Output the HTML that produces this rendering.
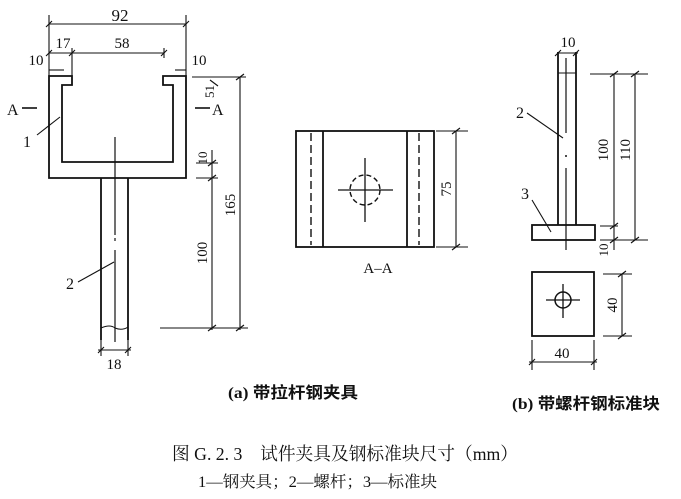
<!DOCTYPE html>
<html><head><meta charset="utf-8"><style>
html,body{margin:0;padding:0;background:#fff;}
svg{display:block}
text{font-family:"Liberation Serif","Noto Serif CJK SC",serif;fill:#111}
.c{font-family:"Liberation Serif","Noto Sans CJK SC",sans-serif;font-weight:bold}
</style></head><body>
<svg width="681" height="499" viewBox="0 0 681 499" xmlns="http://www.w3.org/2000/svg">
<g stroke="#111" stroke-width="1.8" fill="none">
<path d="M49,76 L72,76 L72,85 L62,85 L62,162 L173,162 L173,85 L163,85 L163,76 L186,76 L186,178 L49,178 Z"/>
<line x1="101" y1="178" x2="101" y2="340"/>
<line x1="128" y1="178" x2="128" y2="340"/>
<path d="M101,328 Q110,324 115,328 Q122,331 128,327" stroke-width="1"/>
<line x1="115" y1="137" x2="115" y2="235" stroke-width="1.2"/>
<line x1="115" y1="238" x2="115" y2="241" stroke-width="1.2"/>
<line x1="115" y1="250" x2="115" y2="342" stroke-width="1.2"/>
<g stroke-width="1.1">
<line x1="49" y1="15" x2="49" y2="76"/><line x1="186" y1="15" x2="186" y2="76"/>
<line x1="49" y1="24" x2="186" y2="24"/>
<line x1="72" y1="48" x2="72" y2="76"/><line x1="164" y1="48" x2="164" y2="58"/>
<line x1="49" y1="53" x2="164" y2="53"/>
<line x1="49" y1="70" x2="64" y2="70"/><line x1="175" y1="70" x2="186" y2="70"/>
<line x1="192" y1="77" x2="246" y2="77"/>
<line x1="240" y1="77" x2="240" y2="330"/>
<line x1="212" y1="150" x2="212" y2="330"/>
<line x1="196" y1="163" x2="218" y2="163"/>
<line x1="196" y1="178" x2="218" y2="178"/>
<line x1="160" y1="328" x2="248" y2="328"/>
<line x1="210" y1="80" x2="218" y2="86"/>
<line x1="101" y1="340" x2="101" y2="356"/><line x1="128" y1="340" x2="128" y2="356"/>
<line x1="98" y1="350" x2="131" y2="350"/>
<path d="M46,27 L52,21 M183,27 L189,21 M46,56 L52,50 M69,56 L75,50 M161,56 L167,50 M236,80 L244,74 M236,331 L244,325 M208,331 L216,325 M208,166 L216,160 M208,181 L216,175 M98,353 L104,347 M125,353 L131,347"/>
<line x1="37" y1="135" x2="60" y2="117"/>
<line x1="78" y1="282" x2="114" y2="262"/>
<line x1="22" y1="108" x2="37" y2="108" stroke-width="1.6"/>
<line x1="195" y1="108" x2="210" y2="108" stroke-width="1.6"/>
</g>
<rect x="296" y="131" width="138" height="116"/>
<line x1="323" y1="131" x2="323" y2="247"/>
<line x1="407" y1="131" x2="407" y2="247"/>
<line x1="311" y1="133" x2="311" y2="245" stroke-dasharray="8,4" stroke-width="1.4"/>
<line x1="419" y1="133" x2="419" y2="245" stroke-dasharray="8,4" stroke-width="1.4"/>
<circle cx="365" cy="190" r="15" stroke-dasharray="5,3" stroke-width="1.4"/>
<line x1="338" y1="190" x2="393" y2="190" stroke-width="1.3"/>
<line x1="365" y1="158" x2="365" y2="222" stroke-width="1.3"/>
<g stroke-width="1.1">
<line x1="436" y1="131" x2="468" y2="131"/><line x1="436" y1="247" x2="468" y2="247"/>
<line x1="456" y1="131" x2="456" y2="247"/>
<path d="M452,134 L460,128 M452,250 L460,244"/>
</g>
<line x1="558" y1="52" x2="558" y2="225"/>
<line x1="576" y1="52" x2="576" y2="225"/>
<line x1="558" y1="73" x2="576" y2="73" stroke-width="1"/>
<line x1="566" y1="58" x2="566" y2="133" stroke-width="1.2"/>
<line x1="566" y1="155" x2="566" y2="157" stroke-width="1.5"/>
<line x1="566" y1="168" x2="566" y2="250" stroke-width="1.2"/>
<rect x="532" y="225" width="63" height="15"/>
<g stroke-width="1.1">
<line x1="557" y1="53" x2="578" y2="53"/>
<path d="M555,56 L561,50 M573,56 L579,50"/>
<line x1="590" y1="74" x2="648" y2="74"/>
<line x1="600" y1="240" x2="648" y2="240"/>
<line x1="614" y1="74" x2="614" y2="250"/>
<line x1="635" y1="74" x2="635" y2="240"/>
<line x1="600" y1="226" x2="618" y2="226"/>
<path d="M610,77 L618,71 M631,77 L639,71 M610,243 L618,237 M631,243 L639,237 M610,229 L618,223"/>
<line x1="527" y1="113" x2="563" y2="138"/>
<line x1="532" y1="200" x2="551" y2="232"/>
</g>
<rect x="532" y="272" width="62" height="64"/>
<circle cx="563" cy="300" r="8" stroke-width="1.5"/>
<line x1="546" y1="300" x2="580" y2="300" stroke-width="1.3"/>
<line x1="563" y1="284" x2="563" y2="318" stroke-width="1.3"/>
<g stroke-width="1.1">
<line x1="603" y1="274" x2="632" y2="274"/><line x1="603" y1="336" x2="632" y2="336"/>
<line x1="622" y1="274" x2="622" y2="336"/>
<path d="M618,277 L626,271 M618,339 L626,333"/>
<line x1="532" y1="340" x2="532" y2="370"/><line x1="594" y1="340" x2="594" y2="370"/>
<line x1="529" y1="362" x2="597" y2="362"/>
<path d="M529,365 L535,359 M591,365 L597,359"/>
</g>
</g>
<g font-size="15">
<text x="120" y="21" text-anchor="middle" font-size="17">92</text>
<text x="63" y="48" text-anchor="middle">17</text>
<text x="122" y="48" text-anchor="middle">58</text>
<text x="36" y="65" text-anchor="middle">10</text>
<text x="199" y="65" text-anchor="middle">10</text>
<text x="0" y="0" transform="translate(214,98) rotate(-90)" font-size="13">51</text>
<text x="7" y="115" font-size="16">A</text>
<text x="212" y="115" font-size="16">A</text>
<text x="23" y="147" font-size="16">1</text>
<text x="66" y="289" font-size="16">2</text>
<text x="114" y="369" text-anchor="middle">18</text>
<text x="0" y="0" transform="translate(207,158) rotate(-90)" text-anchor="middle" font-size="13">10</text>
<text x="0" y="0" transform="translate(235,205) rotate(-90)" text-anchor="middle">165</text>
<text x="0" y="0" transform="translate(207,253) rotate(-90)" text-anchor="middle">100</text>
<text x="0" y="0" transform="translate(451,189) rotate(-90)" text-anchor="middle">75</text>
<text x="378" y="273" text-anchor="middle">A–A</text>
<text x="568" y="47" text-anchor="middle">10</text>
<text x="516" y="118" font-size="16">2</text>
<text x="521" y="199" font-size="16">3</text>
<text x="0" y="0" transform="translate(608,150) rotate(-90)" text-anchor="middle">100</text>
<text x="0" y="0" transform="translate(630,150) rotate(-90)" text-anchor="middle">110</text>
<text x="0" y="0" transform="translate(608,250) rotate(-90)" text-anchor="middle" font-size="13">10</text>
<text x="0" y="0" transform="translate(617,305) rotate(-90)" text-anchor="middle">40</text>
<text x="562" y="358" text-anchor="middle">40</text>
</g>
<text x="228" y="398" font-size="16" class="c" textLength="130" lengthAdjust="spacingAndGlyphs">(a) 带拉杆钢夹具</text>
<text x="512" y="409" font-size="16" class="c" textLength="148" lengthAdjust="spacingAndGlyphs">(b) 带螺杆钢标准块</text>
<text x="172" y="460" font-size="18" textLength="346" lengthAdjust="spacingAndGlyphs">图 G. 2. 3　试件夹具及钢标准块尺寸（mm）</text>
<text x="198" y="487" font-size="16" textLength="239" lengthAdjust="spacingAndGlyphs">1—钢夹具；2—螺杆；3—标准块</text>
</svg>
</body></html>
